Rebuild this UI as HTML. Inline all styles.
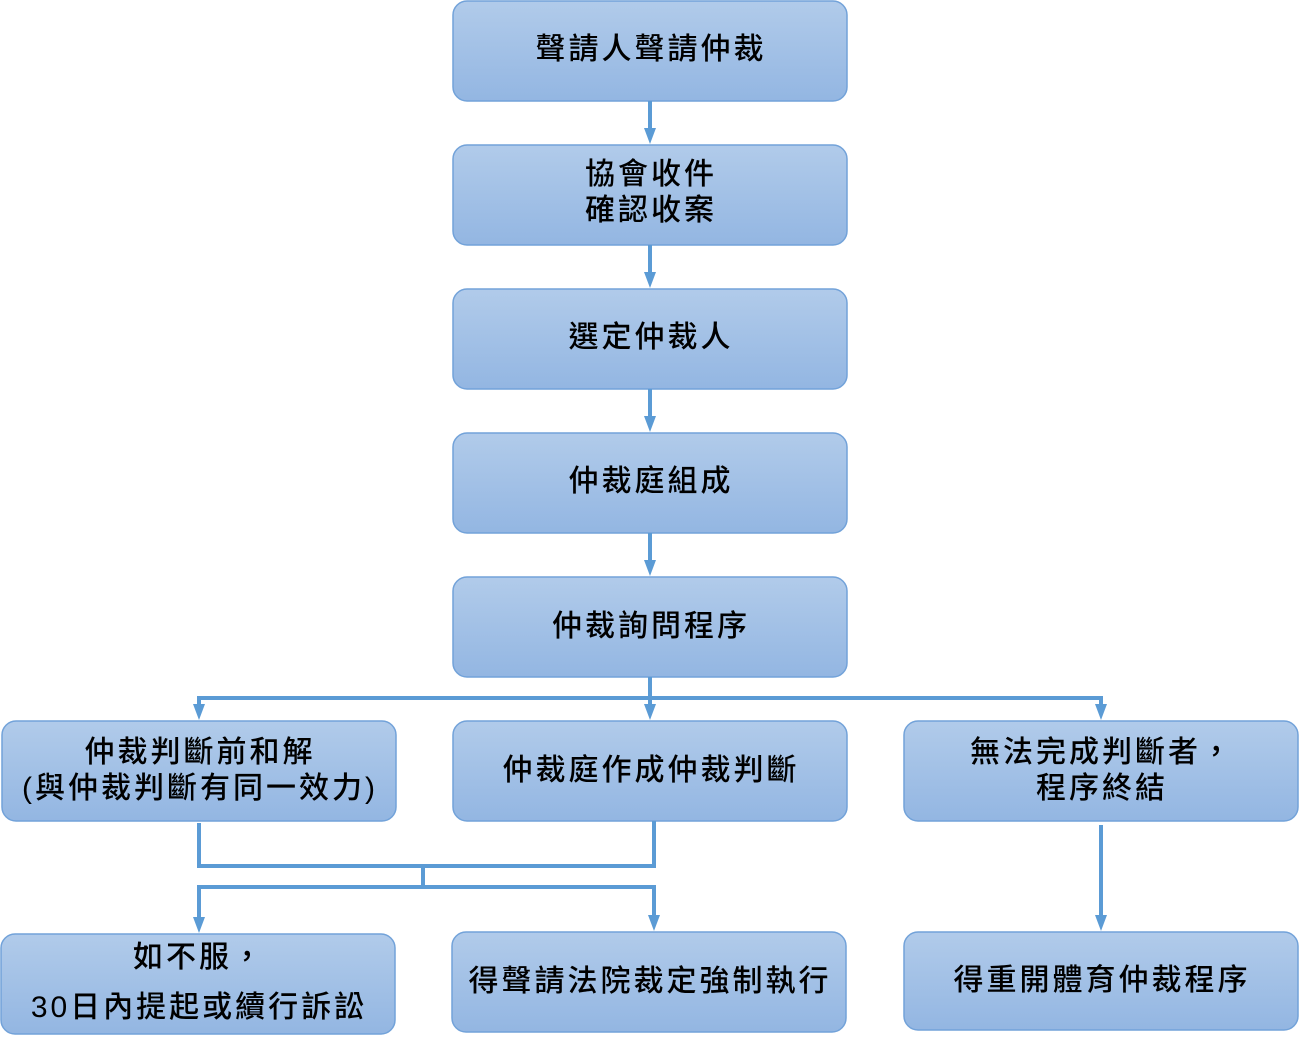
<!DOCTYPE html>
<html><head><meta charset="utf-8"><style>
html,body{margin:0;padding:0;background:#fff}
svg text{font-family:"Liberation Sans","Noto Sans CJK TC",sans-serif;font-size:30px;letter-spacing:3px;fill:#000;text-anchor:middle;font-weight:500}
</style></head><body>
<svg width="1299" height="1047" viewBox="0 0 1299 1047" xmlns="http://www.w3.org/2000/svg">
<defs>
<linearGradient id="g" x1="0" y1="0" x2="0" y2="1"><stop offset="0" stop-color="#b1cbea"/><stop offset="1" stop-color="#93b6e2"/></linearGradient>
<marker id="a" markerWidth="4" markerHeight="4" refX="2" refY="2" orient="auto" markerUnits="strokeWidth"><path d="M0,0.5 L4,2 L0,3.5z" fill="#5b9bd5"/></marker>
</defs>
<g fill="url(#g)" stroke="#72a2d9" stroke-width="1.5">
<rect x="453" y="1" width="394" height="100" rx="14"/>
<rect x="453" y="145" width="394" height="100" rx="14"/>
<rect x="453" y="289" width="394" height="100" rx="14"/>
<rect x="453" y="433" width="394" height="100" rx="14"/>
<rect x="453" y="577" width="394" height="100" rx="14"/>
<rect x="2" y="721" width="394" height="100" rx="14"/>
<rect x="453" y="721" width="394" height="100" rx="14"/>
<rect x="904" y="721" width="394" height="100" rx="14"/>
<rect x="1" y="934" width="394" height="100" rx="14"/>
<rect x="452" y="932" width="394" height="100" rx="14"/>
<rect x="904" y="932" width="394" height="98" rx="14"/>
</g>
<g stroke="#5b9bd5" stroke-width="4" fill="none">
<line x1="650" y1="101" x2="650" y2="136" marker-end="url(#a)"/>
<line x1="650" y1="245" x2="650" y2="280" marker-end="url(#a)"/>
<line x1="650" y1="389" x2="650" y2="424" marker-end="url(#a)"/>
<line x1="650" y1="533" x2="650" y2="568" marker-end="url(#a)"/>
<line x1="650" y1="677" x2="650" y2="712" marker-end="url(#a)"/>
<polyline points="199,712 199,698 1101,698 1101,712"/>
<line x1="199" y1="705" x2="199" y2="712" marker-end="url(#a)"/>
<line x1="1101" y1="705" x2="1101" y2="712" marker-end="url(#a)"/>
<polyline points="199,823 199,866 654,866 654,821"/>
<line x1="423" y1="866" x2="423" y2="887"/>
<polyline points="199,925 199,887 654,887 654,923"/>
<line x1="199" y1="915" x2="199" y2="925" marker-end="url(#a)"/>
<line x1="654" y1="913" x2="654" y2="923" marker-end="url(#a)"/>
<line x1="1101" y1="825" x2="1101" y2="923" marker-end="url(#a)"/>
</g>
<text x="651" y="59">聲請人聲請仲裁</text>
<text x="651" y="184">協會收件</text>
<text x="651" y="220">確認收案</text>
<text x="651" y="347">選定仲裁人</text>
<text x="651" y="491">仲裁庭組成</text>
<text x="651" y="636">仲裁詢問程序</text>
<text x="200" y="762">仲裁判斷前和解</text>
<text x="200" y="798">(與仲裁判斷有同一效力)</text>
<text x="651" y="780">仲裁庭作成仲裁判斷</text>
<text x="1102" y="762">無法完成判斷者，</text>
<text x="1102" y="798">程序終結</text>
<text x="199" y="967">如不服，</text>
<text x="199" y="1017">30日內提起或續行訴訟</text>
<text x="650" y="991">得聲請法院裁定強制執行</text>
<text x="1102" y="990">得重開體育仲裁程序</text>
</svg>
</body></html>
